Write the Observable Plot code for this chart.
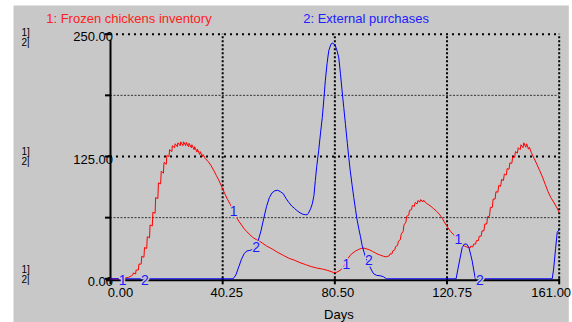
<!DOCTYPE html>
<html>
<head>
<meta charset="utf-8">
<script src="https://cdn.jsdelivr.net/npm/d3@7"></script>
<script src="https://cdn.jsdelivr.net/npm/@observablehq/plot@0.6"></script>
<style>
  html, body { margin: 0; padding: 0; background: #ffffff; }
  svg { display: block; }
</style>
</head>
<body>
<div id="chart"></div>
<script>
// ---- data ----
const seriesNames = ["1: Frozen chickens inventory", "2: External purchases"];

// Series 1: Frozen chickens inventory  [day, value]
const inventory = [
  [0,0],[3,0],[5,0.5],[6.5,1.5],[7.5,3],
  [8,4],[8.2,6],[9,5],[9.2,9],[10,9],[10.2,15],[11,15],[11.2,23],[12,22],[12.2,32],
  [13,31],[13.2,43],[14,42],[14.2,55],[15,54],[15.2,68],[16,67],[16.2,83],[17,82],[17.2,98],
  [18,97],[18.2,110],[19,108],[19.2,119],[20,117],[20.2,126],[21,125],[21.2,132],[22,130],[22.2,136],
  [23,134],[23.2,138],[24,135],[24.2,139],[25,136],[25.2,140],[26,136],[26.2,140],[27,136],[27.2,139.5],
  [28,135],[28.2,138.5],[29,134],[29.2,137],[30,132],[30.2,135],[31,129.5],[31.2,132.5],[32,127],[32.2,130],
  [33,125],[33.2,127],[34,123],[35,120],[36,116],[37,111],[38,105.5],[39,100],[40,93.5],[41,87],[42,81],[43,76],
  [44,69],[45,64],[46,59],[47,55],[48,51],[49,48],[50,45],[51,42.5],[52,40.5],[53,39],[54,37.5],[56,33.5],
  [58,30.5],[60,27],[62,24],[64,21],[66,19],[68,16.5],[70,14.5],[72,12.5],[74,11],[76,10],[78,8.5],[80,6.5],
  [81,6.5],[82,8],[83,10],[84,14],[85,20],[86,24],[87,26.5],[88,28.5],[89,30],[90,31],[91,31.3],[92,30.5],
  [93,29.5],[94,28],[95,26.5],[96,25],[97,24],[98,23],[99,22.5],
  [100,23.5],[100.3,25.5],[101,25.5],[101.3,28.5],[102,29.5],[102.3,33],[103,34],[103.3,38.5],[104,40],[104.3,45.5],
  [105,48.5],[105.3,55],[106,58],[106.3,64],[107,65],[107.3,70],[108,70.5],[108.3,75],[109,74],[109.3,78],
  [110,76.5],[110.3,80],[111,78.5],[111.3,81],[112,78.5],[112.3,80.5],[113,78],
  [114,76],[115,74],[116,71.5],[117,69],[118,66],[119,62],[120,57],[121,52.5],[122,48.5],[123,45.5],
  [124,42],[125,39],[126,36],[127,33.5],[128,32.3],
  [129,31.5],[129.3,33.5],[130,32.5],[130.3,35.5],[131,35.5],[131.3,39],[132,39],[132.3,43.5],[133,43.5],[133.3,49],
  [134,49],[134.3,56],[135,56],[135.3,63.5],[136,64],[136.3,73],[137,73],[137.3,81.5],[138,81.5],[138.3,89],
  [139,88.5],[139.3,95.5],[140,94.5],[140.3,101.5],[141,100.5],[141.3,107],[142,106],[142.3,112.5],[143,112],[143.3,118.5],
  [144,118],[144.3,124.5],[145,124],[145.3,130],[146,128.5],[146.3,134],[147,132],[147.3,137],[148,134],[148.3,139],
  [149,134.5],[149.3,138],[150,132.5],[150.3,134.5],[151,129],[152,123],[153,117],[154,110.5],[155,104],
  [156,96.5],[157,89],[158,83],[159,78.5],[160,73.5],[161,68]
];

// Series 2: External purchases  [day, value]
const purchases = [
  [0,0],[44,0],[45,4],[46,12],[47,20],[48,26],[49,28.5],[50,29],[51,30],[52,32],[53,39],[54,49],[55,62],
  [56,74],[57,83],[58,88],[59,90],[60,90.5],[61,89],[62,87],[63,82],[64,78],[65,74.5],[66,72],[67,69.5],
  [68,67.5],[69,66],[70,65.5],[70.6,65.5],[71,67],[71.8,71.5],[72.4,76.6],[73,85],[73.5,100.5],[74,115],
  [74.7,131],[75.4,150],[76,165],[76.6,185],[77.1,203],[77.7,220],[78.3,233],[79,239],[79.5,241],[80,240.5],
  [80.7,238],[81.3,233],[81.9,226],[82.5,210],[83.1,192],[83.7,175],[84.3,158],[85,138],[85.5,124],[86,111],
  [86.7,95.5],[87.3,83],[87.9,71],[88.5,60],[89.1,51],[89.7,43],[90.3,34],[91,27],[91.5,22],[92.5,16],
  [93.3,11],[94,7],[94.5,5],[95.5,3.5],[97,3],[98,2],[99,0],[124,0],[125,15],[126.2,32],[127,35.5],
  [127.8,35.5],[128.6,32],[129.3,24],[129.8,18],[130.4,8],[130.9,0],[158.5,0],[159,10],[159.7,30.7],
  [160.3,47.6],[161,50]
];

// curve number labels (Stella style), placed on the curves
const curveLabelText = ["1","2","1","2","1","2","1","2"];
const curveLabelDays = [4.4, 12.3, 44.2, 52.3, 84.6, 92.7, 124.8, 132.5];
const curveLabelVals = [-2, -2, 69, 31.6, 14.6, 18.7, 40.2, -1.7];

// axis ticks
const xTicks = [0, 40.25, 80.5, 120.75, 161];
const xTickLabels = ["0.00", "40.25", "80.50", "120.75", "161.00"];
const yTicks = [0, 125, 250];
const yTickLabels = ["0.00", "125.00", "250.00"];
const yMinorTicks = [62.5, 187.5];
const xAxisTitle = "Days";

// ---- build ----
const invData = inventory.map(([d, v]) => ({d, v}));
const purData = purchases.map(([d, v]) => ({d, v}));
const curveLabels = curveLabelText.map((t, i) => ({t, d: curveLabelDays[i], v: curveLabelVals[i]}));
const xLab = xTicks.map((x, i) => ({x, t: xTickLabels[i], i}));
const yLab = yTicks.map((y, i) => ({y, t: yTickLabels[i], i}));

const BG = "#c8c8c8";
const FONT = "Arial, 'Liberation Sans', Helvetica, sans-serif";
const xLabelShift = [10, 4, 3, 5, -8];
const sideShift = [-4, 0, 4];

const xLabelMarks = xLab.map((d) =>
  Plot.text([d], {x: "x", text: "t", frameAnchor: "bottom", lineAnchor: "middle", dy: 14.5, dx: xLabelShift[d.i], fill: "#000", fontSize: 13})
);
const sideMarks = yLab.flatMap((d) => [
  Plot.text([d], {y: "y", frameAnchor: "left", text: () => "1]", dx: -89, dy: -5 + sideShift[d.i], textAnchor: "start", lineAnchor: "middle", fill: "#000", fontSize: 10}),
  Plot.text([d], {y: "y", frameAnchor: "left", text: () => "2|", dx: -89, dy: 5 + sideShift[d.i], textAnchor: "start", lineAnchor: "middle", fill: "#000", fontSize: 10})
]);

const chart = Plot.plot({
  width: 572,
  height: 322,
  marginLeft: 110,
  marginRight: 13.3,
  marginTop: 33.7,
  marginBottom: 43.7,
  style: {background: "#ffffff", fontFamily: FONT, fontSize: "13px", overflow: "visible"},
  x: {domain: [0, 161], axis: null},
  y: {domain: [0, 250], axis: null},
  marks: [
    Plot.frame({fill: BG, stroke: null, insetLeft: -97, insetTop: -28.7, insetRight: -9.6, insetBottom: -43.7}),
    // grid
    Plot.ruleY(yMinorTicks, {x1: 0, x2: 161, stroke: "#333", strokeWidth: 1, strokeDasharray: "2,1.5"}),
    Plot.ruleY([125, 250], {x1: 0, x2: 161, stroke: "#000", strokeWidth: 2, strokeDasharray: "2,4"}),
    Plot.ruleX(xTicks.slice(1), {y1: 0, y2: 250, stroke: "#000", strokeWidth: 2, strokeDasharray: "2,2"}),
    // ticks
    Plot.ruleX(xTicks, {y1: 0, y2: 0, insetBottom: -6, stroke: "#000", strokeWidth: 2}),
    Plot.ruleY(yTicks.concat(yMinorTicks), {x1: 0, x2: 0, insetLeft: -5, stroke: "#000", strokeWidth: 2}),
    // tick labels
    Plot.text(yLab, {x: 0, y: "y", text: "t", textAnchor: "end", lineAnchor: "middle", dx: 2.5, dy: 3, fill: "#000", fontSize: 13}),
    ...xLabelMarks,
    // axes
    Plot.ruleX([0], {y1: 0, y2: 250, stroke: "#000", strokeWidth: 2, insetBottom: -6}),
    Plot.ruleY([0], {x1: 0, x2: 161, stroke: "#000", strokeWidth: 2, dy: 1.5, insetLeft: -4, insetRight: -1}),
    // series
    Plot.line(invData, {x: "d", y: "v", stroke: "#ff0000", strokeWidth: 1}),
    Plot.line(purData, {x: "d", y: "v", stroke: "#0000ff", strokeWidth: 1}),
    // curve labels
    Plot.text(curveLabels, {x: "d", y: "v", text: "t", fill: "#1a1aff", stroke: BG, strokeWidth: 3, fontSize: 14}),
    // series titles
    Plot.text([seriesNames[0]], {frameAnchor: "top-left", lineAnchor: "middle", dx: -64.3, dy: -15.4, textAnchor: "start", fill: "#ff2020", fontSize: 13}),
    Plot.text([seriesNames[1]], {frameAnchor: "top-left", lineAnchor: "middle", dx: 192.7, dy: -15.4, textAnchor: "start", fill: "#2020ff", fontSize: 13}),
    // x axis title
    Plot.text([xAxisTitle], {x: 80.5, frameAnchor: "bottom", lineAnchor: "middle", dy: 35.8, dx: 4, fill: "#000", fontSize: 13}),
    // Stella scale markers "1]" / "2|"
    ...sideMarks
  ]
});

document.getElementById("chart").appendChild(chart);
</script>
</body>
</html>
